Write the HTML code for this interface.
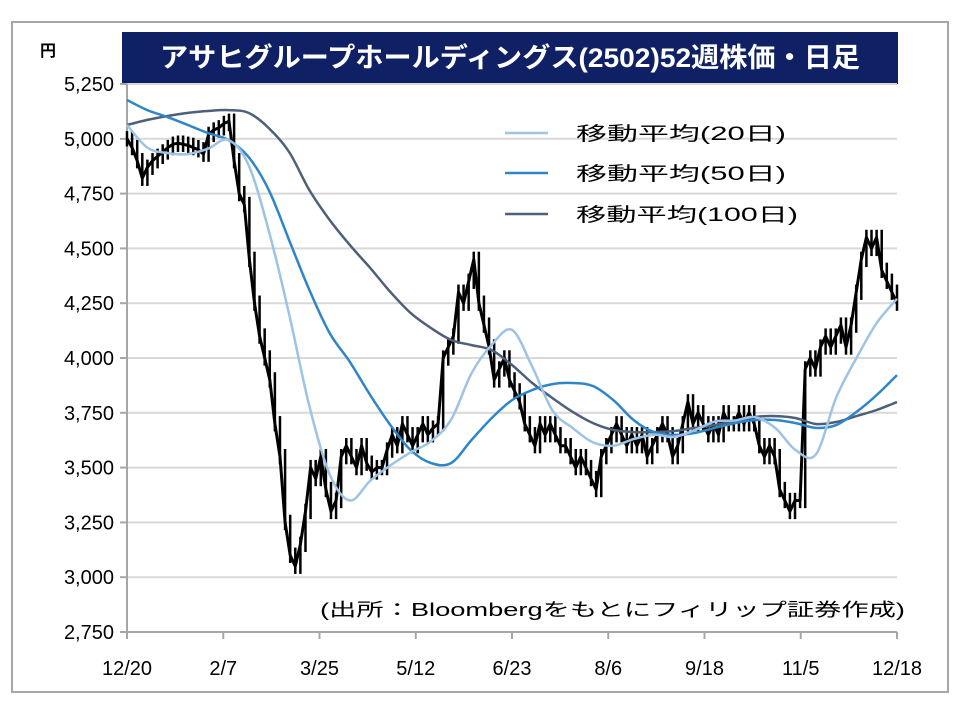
<!DOCTYPE html>
<html><head><meta charset="utf-8">
<style>
html,body{margin:0;padding:0;background:#fff;}
svg{display:block;font-family:"Liberation Sans","Noto Sans CJK JP",sans-serif;}
</style></head>
<body>
<svg id="chart" width="960" height="720" viewBox="0 0 960 720">
<rect x="12" y="22" width="936" height="670" fill="#fff" stroke="#a6a6a6" stroke-width="2"/>
<rect x="122" y="32" width="776" height="52" fill="#0f2064"/>
<text x="510" y="67" fill="#fff" font-size="27" font-weight="bold" text-anchor="middle" textLength="700" lengthAdjust="spacingAndGlyphs">アサヒグループホールディングス(2502)52週株価・日足</text>
<text x="48" y="56" font-size="16" font-weight="bold" text-anchor="middle">円</text>
<g id="grid"></g>
<g id="yticks"></g>
<g id="xticks"></g>
<g id="series"></g>
<g>
 <line x1="505" y1="133" x2="548" y2="133" stroke="#9dc3e6" stroke-width="2.5"/>
 <text x="576" y="140" font-size="19" textLength="210" lengthAdjust="spacingAndGlyphs">移動平均(20日)</text>
 <line x1="505" y1="173" x2="548" y2="173" stroke="#2e86c8" stroke-width="2.5"/>
 <text x="576" y="180" font-size="19" textLength="210" lengthAdjust="spacingAndGlyphs">移動平均(50日)</text>
 <line x1="505" y1="214" x2="548" y2="214" stroke="#4d6078" stroke-width="2.5"/>
 <text x="576" y="221" font-size="19" textLength="222" lengthAdjust="spacingAndGlyphs">移動平均(100日)</text>
</g>
<text x="905" y="616" font-size="18" text-anchor="end" textLength="585" lengthAdjust="spacingAndGlyphs">(出所：Bloombergをもとにフィリップ証券作成)</text>
</svg>
<script>
const yTicks=[2750,3000,3250,3500,3750,4000,4250,4500,4750,5000,5250];
const xLabels=["12/20","2/7","3/25","5/12","6/23","8/6","9/18","11/5","12/18"];
const prices=[5000,4960,4900,4820,4870,4900,4920,4940,4960,4975,4980,4975,4970,4960,4950,4930,5020,5040,5050,5070,5080,4900,4750,4700,4450,4250,4100,4000,3900,3700,3550,3250,3100,3050,3150,3300,3500,3450,3550,3400,3300,3350,3550,3600,3550,3500,3600,3520,3480,3500,3500,3580,3650,3600,3700,3650,3600,3650,3700,3650,3680,3700,4000,4050,4100,4300,4250,4350,4450,4250,4150,4050,3900,3950,4000,3900,3850,3800,3700,3650,3600,3700,3650,3700,3650,3600,3600,3550,3500,3550,3500,3450,3400,3550,3600,3650,3700,3650,3600,3650,3600,3650,3550,3600,3650,3700,3650,3550,3600,3700,3800,3700,3750,3700,3650,3700,3650,3750,3700,3700,3750,3700,3750,3700,3600,3550,3600,3550,3400,3350,3300,3350,3350,3950,4000,3950,4050,4100,4050,4100,4150,4050,4150,4300,4450,4550,4500,4550,4400,4350,4300,4250];
const ma20=[5063,4960,4935,4930,4955,4995,4880,4580,4200,3780,3470,3350,3440,3510,3570,3620,3720,3930,4060,4128,3960,3760,3680,3615,3600,3630,3650,3640,3670,3710,3715,3730,3680,3580,3560,3820,4000,4160,4270];
const ma50=[5177,5131,5099,5063,5026,4995,4917,4766,4538,4310,4114,3982,3831,3694,3580,3521,3521,3626,3726,3808,3854,3881,3886,3872,3808,3717,3662,3649,3658,3681,3703,3717,3717,3703,3681,3694,3754,3831,3922];
const ma100=[5063,5086,5104,5118,5127,5131,5118,5049,4940,4766,4630,4515,4411,4301,4205,4137,4082,4059,4036,3968,3886,3817,3754,3703,3672,3662,3662,3667,3681,3694,3713,3731,3735,3726,3699,3708,3735,3763,3799];

const L=127,R=897,T=84,B=632,NS="http://www.w3.org/2000/svg";
const yS=v=>B-(v-2750)/2500*(B-T);
const xFrac=f=>L+f*(R-L);
function mk(tag,attrs,parent){const e=document.createElementNS(NS,tag);for(const k in attrs)e.setAttribute(k,attrs[k]);parent.appendChild(e);return e;}
const grid=document.getElementById('grid'),yt=document.getElementById('yticks'),xt=document.getElementById('xticks'),ser=document.getElementById('series');
yTicks.forEach((v,i)=>{
 if(i>0){const g=mk('line',{x1:L,x2:R,y1:yS(v),y2:yS(v),stroke:'#d9d9d9','stroke-width':2},grid);
 
 }
 const tk=mk('line',{x1:L-7,x2:L,y1:yS(v),y2:yS(v),stroke:'#a6a6a6','stroke-width':2},yt);
 
 
 const t=mk('text',{x:114,y:yS(v)+7,'font-size':20,'text-anchor':'end'},yt);
 
 
 t.textContent=v.toLocaleString('en-US');
});
const ya=mk('line',{x1:L,x2:L,y1:T,y2:B,stroke:'#a6a6a6','stroke-width':2},grid);


const xa=mk('line',{x1:L-7,x2:R,y1:B,y2:B,stroke:'#a6a6a6','stroke-width':2},grid);


xLabels.forEach((lb,i)=>{
 const x=xFrac(i/(xLabels.length-1));
 const tk=mk('line',{x1:x,x2:x,y1:B,y2:B+7,stroke:'#a6a6a6','stroke-width':2},xt);
 
 
 const t=mk('text',{x:x,y:B+43,'font-size':20,'text-anchor':'middle'},xt);
 
 
 t.textContent=lb;
});
function smoothPath(pts){
 let d='M'+pts[0][0].toFixed(1)+','+pts[0][1].toFixed(1);
 for(let i=0;i<pts.length-1;i++){
  const p0=pts[Math.max(0,i-1)],p1=pts[i],p2=pts[i+1],p3=pts[Math.min(pts.length-1,i+2)];
  const c1=[p1[0]+(p2[0]-p0[0])/6,p1[1]+(p2[1]-p0[1])/6];
  const c2=[p2[0]-(p3[0]-p1[0])/6,p2[1]-(p3[1]-p1[1])/6];
  d+=' C'+c1[0].toFixed(1)+','+c1[1].toFixed(1)+' '+c2[0].toFixed(1)+','+c2[1].toFixed(1)+' '+p2[0].toFixed(1)+','+p2[1].toFixed(1);
 }
 return d;
}
function maLine(arr,color,name){
 const pts=arr.map((v,i)=>[xFrac(i/(arr.length-1)),yS(v)]);
 const p=mk('path',{d:smoothPath(pts),fill:'none',stroke:color,'stroke-width':2.5},ser);
 
 
}
const pl=mk('polyline',{points:prices.map((v,i)=>xFrac(i/(prices.length-1)).toFixed(1)+','+yS(v).toFixed(1)).join(' '),fill:'none',stroke:'#000','stroke-width':3,'stroke-linejoin':'round'},ser);


prices.forEach((v,i)=>{
 const x=xFrac(i/(prices.length-1));
 const prev=i>0?prices[i-1]:v;
 const hi=Math.max(v,prev)+35,lo=Math.min(v,prev)-35;
 const b=mk('line',{x1:x,x2:x,y1:yS(hi),y2:yS(lo),stroke:'#000','stroke-width':2.5},ser);
 
 
});
maLine(ma100,'#4d6078','ma100-line');
maLine(ma50,'#2e86c8','ma50-line');
maLine(ma20,'#9dc3e6','ma20-line');
</script>
</body></html>
